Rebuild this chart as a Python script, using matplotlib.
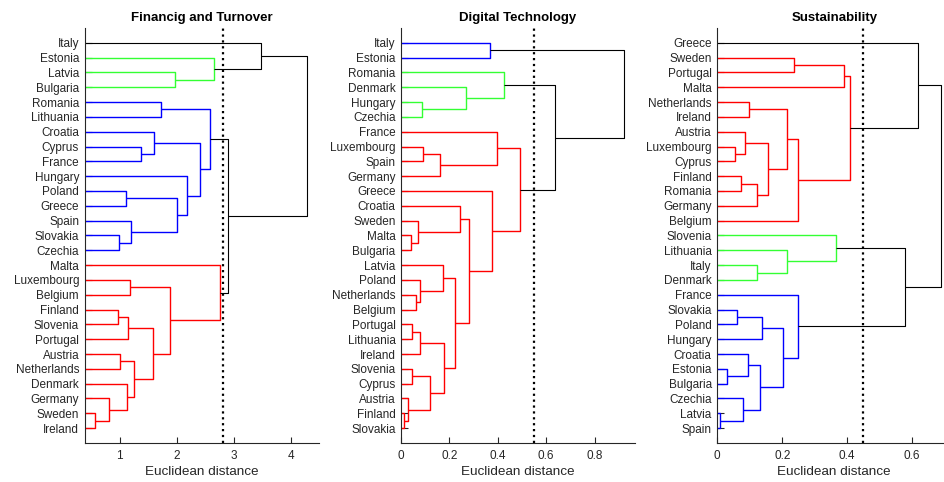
import matplotlib
matplotlib.use("Agg")
import matplotlib.pyplot as plt

plt.rcParams["font.family"] = ["Liberation Sans", "DejaVu Sans"]

# ---- data: leaf order (top to bottom) and links (left, right, height) ----
# a link member is a leaf name or the index of an earlier link
titles = ["Financig and Turnover", "Digital Technology", "Sustainability"]

leaves1 = ["Italy", "Estonia", "Latvia", "Bulgaria", "Romania", "Lithuania",
           "Croatia", "Cyprus", "France", "Hungary", "Poland", "Greece", "Spain",
           "Slovakia", "Czechia", "Malta", "Luxembourg", "Belgium", "Finland",
           "Slovenia", "Portugal", "Austria", "Netherlands", "Denmark", "Germany",
           "Sweden", "Ireland"]
links1 = [("Latvia", "Bulgaria", 1.97), ("Estonia", 0, 2.65), ("Italy", 1, 3.47),
          ("Romania", "Lithuania", 1.73), ("Cyprus", "France", 1.37),
          ("Croatia", 4, 1.61), ("Poland", "Greece", 1.12),
          ("Slovakia", "Czechia", 0.99), ("Spain", 7, 1.20), (6, 8, 2.01),
          ("Hungary", 9, 2.17), (5, 10, 2.41), (3, 11, 2.58),
          ("Luxembourg", "Belgium", 1.19), ("Finland", "Slovenia", 0.98),
          (14, "Portugal", 1.15), ("Austria", "Netherlands", 1.00),
          ("Sweden", "Ireland", 0.57), ("Germany", 17, 0.81), ("Denmark", 18, 1.13),
          (16, 19, 1.26), (15, 20, 1.58), (13, 21, 1.89), ("Malta", 22, 2.75),
          (12, 23, 2.89), (2, 24, 4.28)]
cut1 = 2.81

leaves2 = ["Italy", "Estonia", "Romania", "Denmark", "Hungary", "Czechia", "France",
           "Luxembourg", "Spain", "Germany", "Greece", "Croatia", "Sweden", "Malta",
           "Bulgaria", "Latvia", "Poland", "Netherlands", "Belgium", "Portugal",
           "Lithuania", "Ireland", "Slovenia", "Cyprus", "Austria", "Finland",
           "Slovakia"]
links2 = [("Italy", "Estonia", 0.367), ("Hungary", "Czechia", 0.087),
          ("Denmark", 1, 0.268), ("Romania", 2, 0.427),
          ("Luxembourg", "Spain", 0.090), (4, "Germany", 0.160), ("France", 5, 0.398),
          ("Malta", "Bulgaria", 0.043), ("Sweden", 7, 0.069), ("Croatia", 8, 0.242),
          ("Netherlands", "Belgium", 0.064), ("Poland", 10, 0.079),
          ("Latvia", 11, 0.173), ("Portugal", "Lithuania", 0.047),
          (13, "Ireland", 0.079), ("Slovenia", "Cyprus", 0.046),
          ("Finland", "Slovakia", 0.014), ("Austria", 16, 0.030), (15, 17, 0.119),
          (14, 18, 0.177), (12, 19, 0.222), (9, 20, 0.280), ("Greece", 21, 0.376),
          (6, 22, 0.490), (3, 23, 0.637), (0, 24, 0.923)]
cut2 = 0.55

leaves3 = ["Greece", "Sweden", "Portugal", "Malta", "Netherlands", "Ireland",
           "Austria", "Luxembourg", "Cyprus", "Finland", "Romania", "Germany",
           "Belgium", "Slovenia", "Lithuania", "Italy", "Denmark", "France",
           "Slovakia", "Poland", "Hungary", "Croatia", "Estonia", "Bulgaria",
           "Czechia", "Latvia", "Spain"]
links3 = [("Sweden", "Portugal", 0.235), (0, "Malta", 0.389),
          ("Netherlands", "Ireland", 0.099), ("Luxembourg", "Cyprus", 0.055),
          ("Austria", 3, 0.086), ("Finland", "Romania", 0.073), (5, "Germany", 0.123),
          (4, 6, 0.156), (2, 7, 0.216), (8, "Belgium", 0.247), (1, 9, 0.407),
          ("Greece", 10, 0.617), ("Italy", "Denmark", 0.123),
          ("Lithuania", 12, 0.216), ("Slovenia", 13, 0.366),
          ("Slovakia", "Poland", 0.062), (15, "Hungary", 0.137),
          ("Estonia", "Bulgaria", 0.029), ("Croatia", 17, 0.096),
          ("Latvia", "Spain", 0.009), ("Czechia", 19, 0.079), (18, 20, 0.132),
          (16, 21, 0.201), ("France", 22, 0.248), (14, 23, 0.579), (11, 24, 0.687)]
cut3 = 0.45

panels = [
    (leaves1, links1, cut1, ["#33ff33", "#0000ff", "#ff0000"], (0.39, 4.48), [1, 2, 3, 4]),
    (leaves2, links2, cut2, ["#0000ff", "#33ff33", "#ff0000"], (0, 0.967), [0, 0.2, 0.4, 0.6, 0.8]),
    (leaves3, links3, cut3, ["#ff0000", "#33ff33", "#0000ff"], (0, 0.72), [0, 0.2, 0.4, 0.6]),
]


def draw_dendrogram(ax, leaves, links, cut, cluster_colors):
    pos = {name: i + 1 for i, name in enumerate(leaves)}
    node = []  # (y, height) of each link

    def where(ref):
        if isinstance(ref, str):
            return pos[ref], 0.0
        return node[ref]

    for a, b, h in links:
        ya, _ = where(a)
        yb, _ = where(b)
        node.append(((ya + yb) / 2, h))

    # colour: clusters whose link is below the cut get their own colour
    parent = {}
    for i, (a, b, h) in enumerate(links):
        for c in (a, b):
            if not isinstance(c, str):
                parent[c] = i
    roots = [i for i, (a, b, h) in enumerate(links)
             if h < cut and (i not in parent or links[parent[i]][2] >= cut)]
    roots.sort(key=lambda i: node[i][0])
    color = {}
    for r, col in zip(roots, cluster_colors):
        color[r] = col
    for i in range(len(links) - 1, -1, -1):
        if i not in color:
            color[i] = color.get(parent.get(i), "k") if links[i][2] < cut else "k"

    for i, (a, b, h) in enumerate(links):
        ya, ha = where(a)
        yb, hb = where(b)
        col = color[i]
        lw = 0.8 if col == "k" else 1.0
        ax.plot([ha, h, h, hb], [ya, ya, yb, yb], color=col, lw=lw,
                solid_capstyle="butt", clip_on=True)

    ax.axvline(cut, color="k", ls=":", lw=1.6)
    ax.set_yticks(range(1, len(leaves) + 1))
    ax.set_yticklabels(leaves)
    ax.set_ylim(len(leaves) + 1, 0)


fig = plt.figure(figsize=(9.45, 4.82), dpi=100)
lefts = [0.0896, 0.4243, 0.759]
for k, (leaves, links, cut, cols, xlim, xt) in enumerate(panels):
    ax = fig.add_axes([lefts[k], 0.081, 0.2476, 0.861])
    draw_dendrogram(ax, leaves, links, cut, cols)
    ax.set_xlim(*xlim)
    ax.set_xticks(xt)
    ax.set_xticklabels([f"{v:g}" for v in xt])
    ax.spines["top"].set_visible(False)
    ax.spines["right"].set_visible(False)
    for s in ("left", "bottom"):
        ax.spines[s].set_linewidth(0.8)
        ax.spines[s].set_color("#262626")
    ax.tick_params(axis="y", direction="in", length=5, width=0.8, pad=4,
                   labelsize=8.5, colors="#262626")
    ax.tick_params(axis="x", direction="in", length=4, width=0.8, pad=5,
                   labelsize=8.5, colors="#262626")
    ax.set_xlabel("Euclidean distance", fontsize=9.7, color="#262626", labelpad=3)
    ax.set_title(titles[k], fontsize=9.5, fontweight="bold", pad=5)

fig.savefig("out.png", dpi=100)
